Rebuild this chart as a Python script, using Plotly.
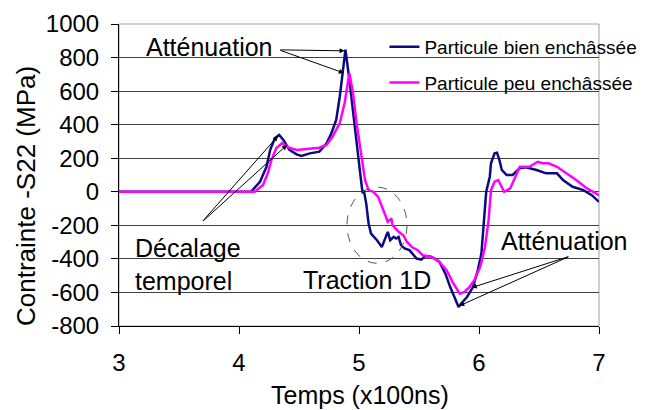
import plotly.graph_objects as go

# Particule bien enchâssée (bleu)
t_bien = [3.0, 4.0, 4.10, 4.175, 4.23, 4.26, 4.30, 4.335, 4.37, 4.42, 4.48, 4.52, 4.59, 4.67,
          4.73, 4.77, 4.81, 4.84, 4.887, 4.92, 4.95, 4.98, 5.01, 5.03, 5.04, 5.06, 5.08, 5.10,
          5.15, 5.19, 5.22, 5.24, 5.26, 5.29, 5.31, 5.33, 5.35, 5.38, 5.42, 5.48, 5.52, 5.55,
          5.59, 5.63, 5.67, 5.72, 5.76, 5.80, 5.83, 5.85, 5.90, 5.95, 5.99, 6.02, 6.04, 6.06,
          6.09, 6.10, 6.13, 6.15, 6.17, 6.19, 6.23, 6.28, 6.34, 6.39, 6.48, 6.56, 6.65, 6.70,
          6.78, 6.87, 6.94, 7.0]
s_bien = [0, 0, 0, 60, 150, 250, 320, 339, 309, 250, 223, 213, 229, 239,
          289, 349, 428, 568, 847, 667, 468, 269, 110, -10, 10, -69, -189, -249,
          -289, -329, -269, -239, -289, -269, -279, -269, -318, -338, -348, -398, -404, -384,
          -384, -398, -418, -488, -568, -637, -687, -667, -627, -568, -468, -368, -189, 0,
          90, 170, 229, 233, 189, 130, 100, 100, 140, 146, 130, 110, 110, 70,
          30, 10, -20, -60]

# Particule peu enchâssée (magenta)
t_peu = [3.0, 4.0, 4.13, 4.20, 4.24, 4.27, 4.31, 4.36, 4.41, 4.48, 4.59, 4.67, 4.73, 4.78,
         4.84, 4.88, 4.92, 4.95, 4.98, 5.01, 5.03, 5.05, 5.08, 5.12, 5.16, 5.18, 5.22, 5.24,
         5.27, 5.28, 5.33, 5.37, 5.40, 5.44, 5.49, 5.53, 5.58, 5.63, 5.67, 5.73, 5.78, 5.84,
         5.88, 5.92, 5.96, 6.01, 6.05, 6.08, 6.10, 6.13, 6.16, 6.19, 6.21, 6.26, 6.30, 6.34,
         6.42, 6.49, 6.53, 6.58, 6.65, 6.73, 6.81, 6.90, 6.98, 7.0]
s_peu = [0, 0, 0, 40, 110, 189, 259, 290, 265, 249, 257, 263, 279, 329,
         409, 528, 707, 588, 408, 249, 149, 70, 10, 0, -30, -69, -149, -179,
         -159, -199, -239, -259, -299, -329, -348, -378, -384, -398, -418, -468, -538, -607,
         -597, -568, -528, -448, -329, -169, 10, 60, 70, 30, 0, 20, 90, 149,
         149, 179, 170, 170, 149, 110, 70, 20, -10, -20]

x_ticks = [3, 4, 5, 6, 7]
y_ticks = [1000, 800, 600, 400, 200, 0, -200, -400, -600, -800]
y_labels = ["1000", "800", "600", "400", "200", "0", "-200", "-400", "-600", "-800"]

font = "Liberation Sans, Arial, sans-serif"

fig = go.Figure()
fig.add_trace(go.Scatter(x=t_bien, y=s_bien, mode="lines", name="Particule bien enchâssée",
                         line=dict(color="#0b0b80", width=2.5), legendgroup="a"))
fig.add_trace(go.Scatter(x=t_peu, y=s_peu, mode="lines", name="Particule peu enchâssée",
                         line=dict(color="#ff00ff", width=2.5), legendgroup="b"))

# cadre gris (haut / droite)
fig.add_shape(type="rect", xref="paper", yref="paper", x0=0, x1=1, y0=0, y1=1,
              line=dict(color="#a0a0a0", width=1), layer="below")
# fond blanc de la légende (masque la grille)
fig.add_shape(type="rect", xref="paper", yref="paper", x0=0.534, x1=0.998, y0=0.755, y1=0.975,
              line=dict(width=0), fillcolor="white", layer="between")
# ellipse pointillée
fig.add_shape(type="circle", xref="x", yref="y", x0=4.90, x1=5.40, y0=-426, y1=28,
              line=dict(color="#555555", width=1, dash="dash"))

def arrow(tail, head):
    fig.add_annotation(x=head[0], y=head[1], ax=tail[0], ay=tail[1], xref="x", yref="y",
                       axref="x", ayref="y", text="", showarrow=True, arrowhead=2,
                       arrowsize=1, arrowwidth=1, arrowcolor="black")

arrow((4.332, 846), (4.880, 840))
arrow((4.332, 846), (4.874, 708))
arrow((3.69, -181), (4.324, 332))
arrow((3.69, -181), (4.40, 279))
arrow((6.757, -384), (5.94, -571))
arrow((6.757, -384), (5.836, -680))

def label(x, y, txt):
    fig.add_annotation(x=x, y=y, xref="x", yref="y", text=txt, showarrow=False,
                       xanchor="left", yanchor="middle", align="left",
                       font=dict(family=font, size=25, color="black"))

label(3.207, 863, "Atténuation")
label(3.12, -432, "Décalage<br>temporel")
label(4.52, -527, "Traction 1D")
label(6.165, -295, "Atténuation")

# titres d'axes (positions en pixels de la zone de tracé -> paper)
def px(x, y):
    return (x - 119) / 480, (326 - y) / 302

tx, ty = px(26, 196)
fig.add_annotation(x=tx, y=ty, xref="paper", yref="paper", text="Contrainte -S22 (MPa)",
                   showarrow=False, textangle=-90, xanchor="center", yanchor="middle",
                   font=dict(family=font, size=26, color="black"))
tx, ty = px(360, 395)
fig.add_annotation(x=tx, y=ty, xref="paper", yref="paper", text="Temps (x100ns)",
                   showarrow=False, xanchor="center", yanchor="middle",
                   font=dict(family=font, size=25, color="black"))

# la page ajoute une marge de 8 px autour de la figure
fig.update_layout(
    width=646, height=402,
    margin=dict(l=111, r=55, t=16, b=84, autoexpand=False),
    paper_bgcolor="white", plot_bgcolor="white",
    font=dict(family=font, size=22, color="black"),
    showlegend=True,
    legend=dict(x=0.553, y=0.987, xanchor="left", yanchor="top", bgcolor="rgba(0,0,0,0)",
                font=dict(family=font, size=19, color="black"), tracegroupgap=8),
    xaxis=dict(range=[3, 7], tickvals=x_ticks, showgrid=False, zeroline=False,
               showline=True, linecolor="black", linewidth=1, ticks="outside", ticklen=7,
               tickcolor="black", ticklabelstandoff=8, tickfont=dict(size=24)),
    yaxis=dict(range=[-800, 1000], tickvals=y_ticks, ticktext=y_labels, showgrid=True,
               gridcolor="#404040", gridwidth=1, zeroline=False, showline=True,
               linecolor="black", linewidth=1, ticks="outside", ticklen=7, tickcolor="black",
               ticklabelstandoff=7, tickfont=dict(size=24)),
)

fig.write_html("out.html")
